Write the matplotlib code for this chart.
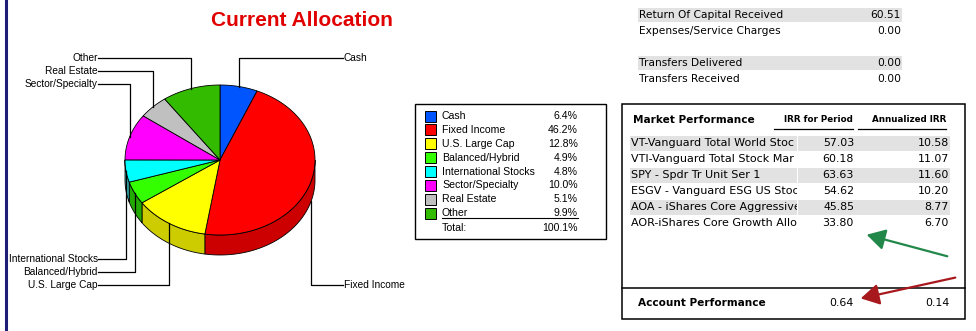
import matplotlib
matplotlib.use('Agg')
from matplotlib import pyplot as plt
from matplotlib.patches import Polygon, Rectangle, FancyArrowPatch
from matplotlib.transforms import Bbox
import numpy as np

# allocation data
categories = ["Cash", "Fixed Income", "U.S. Large Cap", "Balanced/Hybrid",
              "International Stocks", "Sector/Specialty", "Real Estate", "Other"]
shares = [6.4, 46.2, 12.8, 4.9, 4.8, 10.0, 5.1, 9.9]
top_colors = ["#0055ff", "#ff0000", "#ffff00", "#33ff00",
              "#00ffff", "#ff00ff", "#c0c0c0", "#33bb00"]
side_colors = ["#0044cc", "#cc0000", "#cccc00", "#22aa00",
               "#33aaaa", "#cc00cc", "#999999", "#228800"]

# cash flow rows
flow_labels = ["Return Of Capital Received", "Expenses/Service Charges",
               "Transfers Delivered", "Transfers Received"]
flow_values = ["60.51", "0.00", "0.00", "0.00"]

# market performance rows (names as cut off in the report)
funds = ["VT-Vanguard Total World Stoc", "VTI-Vanguard Total Stock Mar",
         "SPY - Spdr Tr Unit Ser 1", "ESGV - Vanguard ESG US Stoc",
         "AOA - iShares Core Aggressive", "AOR-iShares Core Growth Alloc"]
irr_period = [57.03, 60.18, 63.63, 54.62, 45.85, 33.80]
irr_annual = [10.58, 11.07, 11.60, 10.20, 8.77, 6.70]
acct_period = 0.64
acct_annual = 0.14

W, H = 976, 331
fig = plt.figure(figsize=(W / 100, H / 100), dpi=100)
ax = fig.add_axes([0, 0, 1, 1])
ax.set_xlim(0, W)
ax.set_ylim(H, 0)
ax.axis('off')

small = dict(family='Liberation Sans', fontsize=7.3, color='black')
leg = dict(family='Liberation Sans', fontsize=7.6, color='black')
tab = dict(family='DejaVu Sans', fontsize=7.7, color='black')
rowf = dict(family='DejaVu Sans', fontsize=7.9, color='black')

# left border
ax.plot([6, 6], [0, H], color='#1e1e78', lw=2.2)

ax.text(302, 21, "Current Allocation", ha='center', va='center', color='#e00000',
        family='Liberation Sans', fontweight='bold', fontsize=15)

# ---- 3d pie ----
cx, cy, rx, ry, depth = 220, 160, 95, 75, 20
fr = np.array(shares) / sum(shares)
ends = 90 - 360 * np.cumsum(fr)
starts = np.concatenate([[90], ends[:-1]])

def edge(th):
    t = np.radians(th)
    return cx + rx * np.cos(t), cy - ry * np.sin(t)

# sides (front half only, angles between -180 and 0)
for s, e, c in zip(starts, ends, side_colors):
    a0, a1 = min(s, 0), max(e, -180)
    if a0 <= a1:
        continue
    th = np.linspace(a0, a1, 60)
    x, y = edge(th)
    pts = np.column_stack([np.concatenate([x, x[::-1]]),
                           np.concatenate([y, y[::-1] + depth])])
    ax.add_patch(Polygon(pts, closed=True, fc=c, ec='black', lw=0.6, zorder=2))

# top faces
for s, e, c in zip(starts, ends, top_colors):
    th = np.linspace(s, e, 100)
    x, y = edge(th)
    pts = np.column_stack([np.concatenate([[cx], x]), np.concatenate([[cy], y])])
    ax.add_patch(Polygon(pts, closed=True, fc=c, ec='black', lw=0.6, zorder=3))

# leader lines + labels
label_y = {"Other": 58, "Real Estate": 71, "Sector/Specialty": 84, "Cash": 58,
           "International Stocks": 259, "Balanced/Hybrid": 272,
           "U.S. Large Cap": 285, "Fixed Income": 285}
for name, s, e in zip(categories, starts, ends):
    mid = (s + e) / 2
    x0, y0 = edge(mid)
    ly = label_y[name]
    if np.sin(np.radians(mid)) < 0 and np.cos(np.radians(mid)) > 0.8:
        y0 += depth
    if x0 > cx:
        ax.plot([x0, x0, 343], [y0, ly, ly], color='black', lw=0.9, zorder=4)
        ax.text(344, ly, name, ha='left', va='center', **small)
    else:
        ax.plot([x0, x0, 98], [y0, ly, ly], color='black', lw=0.9, zorder=4)
        ax.text(98, ly, name, ha='right', va='center', **small)

# ---- legend box ----
ax.add_patch(Rectangle((415, 104), 191, 135, fill=False, ec='black', lw=1.0))
for i, (name, v, c) in enumerate(zip(categories, shares, top_colors)):
    yy = 116 + i * 13.9
    ax.add_patch(Rectangle((425, yy - 5.5), 11, 11, fc=c, ec='black', lw=0.7))
    ax.text(442, yy, name, ha='left', va='center', **leg)
    ax.text(578, yy, f"{v:.1f}%", ha='right', va='center', **leg)
ax.plot([442, 578], [218, 218], color='black', lw=0.8)
ax.text(442, 228, "Total:", ha='left', va='center', **leg)
ax.text(578, 228, f"{sum(shares):.1f}%", ha='right', va='center', **leg)

# ---- cash flow rows ----
flow_y = [15, 31, 63, 79]
for i, (lab, val, yy) in enumerate(zip(flow_labels, flow_values, flow_y)):
    if i in (0, 2):
        ax.add_patch(Rectangle((638, yy - 7), 264, 14, fc='#e2e2e2', ec='none'))
    ax.text(639, yy, lab, ha='left', va='center', **tab)
    ax.text(901, yy, val, ha='right', va='center', **tab)

# ---- market performance box ----
ax.add_patch(Rectangle((622, 104), 343, 215, fill=False, ec='black', lw=1.1))
ax.plot([622, 965], [288, 288], color='black', lw=1.1)
ax.text(633, 120, "Market Performance", ha='left', va='center', family='DejaVu Sans',
        fontweight='bold', fontsize=7.6)
ax.text(853, 119, "IRR for Period", ha='right', va='center', family='DejaVu Sans',
        fontweight='bold', fontsize=6.3)
ax.text(946, 119, "Annualized IRR", ha='right', va='center', family='DejaVu Sans',
        fontweight='bold', fontsize=6.3)
ax.plot([774, 853], [129, 129], color='black', lw=0.9)
ax.plot([858, 946], [129, 129], color='black', lw=0.9)

fig.canvas.draw()
for i, (f, p, a) in enumerate(zip(funds, irr_period, irr_annual)):
    yy = 143 + i * 16
    if i % 2 == 0:
        ax.add_patch(Rectangle((630, yy - 7.5), 167, 15, fc='#e2e2e2', ec='none'))
        ax.add_patch(Rectangle((798, yy - 7.5), 152, 15, fc='#e2e2e2', ec='none'))
    # name column is cut at the cell edge
    p0 = ax.transData.transform((629, yy + 10))
    p1 = ax.transData.transform((797, yy - 10))
    box = Bbox.from_extents(min(p0[0], p1[0]), min(p0[1], p1[1]),
                            max(p0[0], p1[0]), max(p0[1], p1[1]))
    t = ax.text(631, yy, f, ha='left', va='center', clip_on=True,
                **{**rowf, 'fontsize': 8.0})
    t.set_clip_path(None)
    t.set_clip_box(box)
    ax.text(854, yy, f"{p:.2f}", ha='right', va='center', **rowf)
    ax.text(949, yy, f"{a:.2f}", ha='right', va='center', **rowf)

ax.text(638, 303, "Account Performance", ha='left', va='center', family='DejaVu Sans',
        fontweight='bold', fontsize=7.6)
ax.text(854, 303, f"{acct_period:.2f}", ha='right', va='center', **rowf)
ax.text(949, 303, f"{acct_annual:.2f}", ha='right', va='center', **rowf)

# annotation arrows
ax.add_patch(FancyArrowPatch((950, 257), (864, 234), arrowstyle='-|>,head_length=7,head_width=4',
                             color='#21884a', lw=1.6, mutation_scale=1.6, zorder=5))
ax.add_patch(FancyArrowPatch((958, 277), (858, 299), arrowstyle='-|>,head_length=7,head_width=4',
                             color='#a8191e', lw=1.6, mutation_scale=1.6, zorder=5))

fig.savefig('out.png', dpi=100)
